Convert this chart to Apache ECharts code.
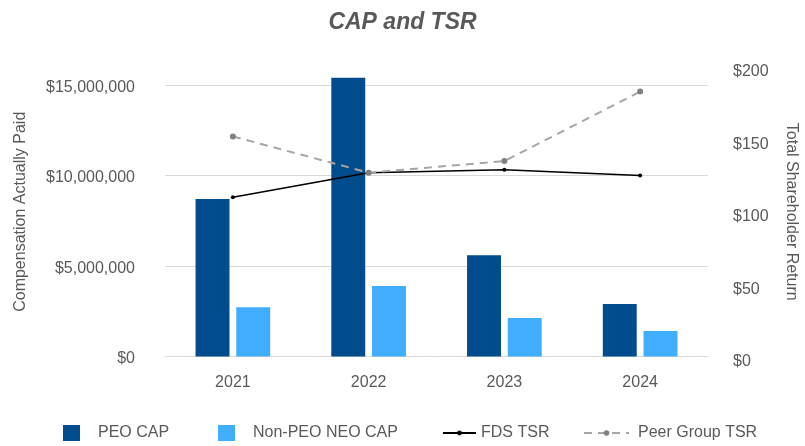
<!DOCTYPE html>
<html>
<head>
<meta charset="utf-8">
<script src="https://cdn.jsdelivr.net/npm/echarts@6/dist/echarts.min.js"></script>
<style>html,body{margin:0;padding:0;background:#fff}#c{width:805px;height:446px}</style>
</head>
<body>
<div id="c"></div>
<script>
const years = ['2021', '2022', '2023', '2024'];
const peoCap = [8700000, 15400000, 5600000, 2900000];
const nonPeoCap = [2720000, 3900000, 2130000, 1410000];
const fdsTsr = [110, 127, 129, 125];
const peerTsr = [152, 127, 135, 183];
const leftTicks = [0, 5000000, 10000000, 15000000];
const rightTicks = [0, 50, 100, 150, 200];

const txt = '#595959';
const font = 'Liberation Sans, Arial, sans-serif';
const chart = echarts.init(document.getElementById('c'));
const ts = (extra) => Object.assign({ color: txt, fontSize: 16, fontFamily: font }, extra || {});
chart.setOption({
  animation: false,
  textStyle: { fontFamily: font },
  title: {
    text: 'CAP and TSR', left: 'center', top: 6,
    textStyle: { color: txt, fontSize: 23, fontWeight: 'bold', fontStyle: 'italic', fontFamily: font }
  },
  grid: { left: 165, right: 97, top: 67, bottom: 89.5, containLabel: false, outerBoundsMode: 'none' },
  legend: [
    { left: 63, top: 425, padding: 0, data: [{ name: 'PEO CAP', icon: 'rect' }],
      itemWidth: 17, itemHeight: 16, textStyle: ts({ padding: [0, 0, 0, 13] }) },
    { left: 218, top: 425, padding: 0, data: [{ name: 'Non-PEO NEO CAP', icon: 'rect' }],
      itemWidth: 17, itemHeight: 16, textStyle: ts({ padding: [0, 0, 0, 13] }) },
    { left: 442, top: 425, padding: 0, data: ['FDS TSR'],
      itemWidth: 33, itemHeight: 6, textStyle: ts() },
    { left: 583, top: 425, padding: 0, data: ['Peer Group TSR'],
      itemWidth: 45, itemHeight: 7, textStyle: ts({ padding: [0, 0, 0, 4] }) }
  ],
  xAxis: {
    type: 'category', data: years,
    axisLine: { lineStyle: { color: '#d9d9d9' } },
    axisTick: { show: false },
    axisLabel: { color: txt, fontSize: 16, margin: 18 }
  },
  yAxis: [
    {
      type: 'value', min: 0, max: 16000000, interval: 5000000,
      name: 'Compensation Actually Paid', nameLocation: 'middle', nameGap: 136,
      nameTextStyle: { color: txt, fontSize: 16 },
      axisLine: { show: false }, axisTick: { show: false },
      axisLabel: {
        color: txt, fontSize: 16, margin: 30, verticalAlign: 'top', lineHeight: 5,
        formatter: v => leftTicks.includes(v) ? '$' + v.toLocaleString('en-US') : ''
      },
      splitLine: { lineStyle: { color: ['#d9d9d9', '#d9d9d9', '#d9d9d9', '#d9d9d9', 'rgba(0,0,0,0)'] } }
    },
    {
      type: 'value', min: 0, max: 200, interval: 50, position: 'right',
      name: 'Total Shareholder Return', nameLocation: 'middle', nameGap: 75, nameRotate: -90,
      nameTextStyle: { color: txt, fontSize: 16 },
      axisLine: { show: false }, axisTick: { show: false }, splitLine: { show: false },
      axisLabel: {
        color: txt, fontSize: 16, margin: 25, verticalAlign: 'top', lineHeight: 10,
        formatter: v => rightTicks.includes(v) ? '$' + v : ''
      }
    }
  ],
  series: [
    { name: 'PEO CAP', type: 'bar', data: peoCap, barWidth: '25%', barGap: '20%',
      itemStyle: { color: '#004C8C' } },
    { name: 'Non-PEO NEO CAP', type: 'bar', data: nonPeoCap, barWidth: '25%', barGap: '20%',
      itemStyle: { color: '#40ADFF' } },
    { name: 'FDS TSR', type: 'line', yAxisIndex: 1, data: fdsTsr,
      symbol: 'circle', symbolSize: 4,
      lineStyle: { color: '#000', width: 1.5 }, itemStyle: { color: '#000' } },
    { name: 'Peer Group TSR', type: 'line', yAxisIndex: 1, data: peerTsr,
      symbol: 'circle', symbolSize: 6,
      lineStyle: { color: '#a6a6a6', width: 2, type: [8, 6] }, itemStyle: { color: '#808080' } }
  ]
});
</script>
</body>
</html>
